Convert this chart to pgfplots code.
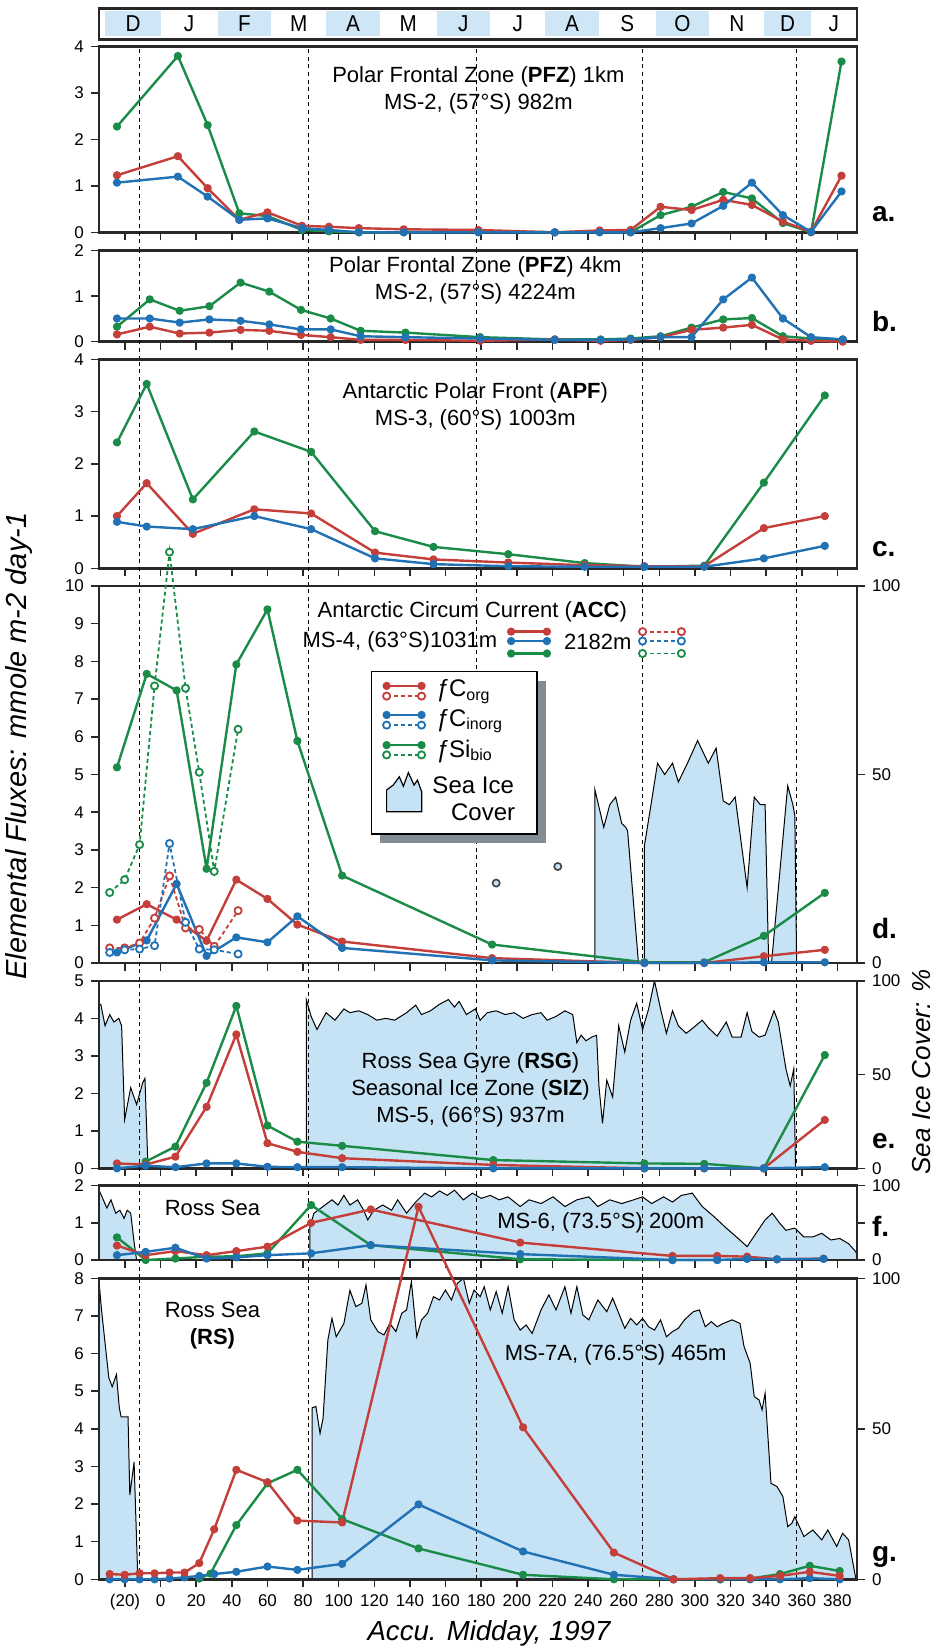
\documentclass[border=0pt]{standalone}
\usepackage{pgfplots}
\pgfplotsset{compat=1.18}
\usepackage{fontspec}
\setmainfont{Liberation Sans}
\newfontfamily\narrow{Liberation Sans}[FakeStretch=0.9]
\definecolor{cred}{RGB}{196,62,58}
\definecolor{cblue}{RGB}{33,113,181}
\definecolor{cgreen}{RGB}{26,140,72}
\definecolor{iceblue}{RGB}{198,227,245}
\definecolor{monthblue}{RGB}{206,230,246}
\definecolor{framec}{RGB}{40,40,40}
\definecolor{shadowc}{RGB}{130,140,148}
\tikzset{vdash/.style={black, line width=0.45pt, dash pattern=on 2pt off 1.8pt},
  tfont/.style={font=\fontsize{11}{13.5}\selectfont}}
\pgfplotsset{
  panel/.style={
    scale only axis, width=379pt, anchor=north west,
    xmin=-34.6, xmax=391, ymin=0, clip=false,
    axis line style={line width=1.25pt, framec},
    tick style={framec, line width=0.75pt},
    tick align=outside, major tick length=4pt,
    xtick={-20,0,...,380},
    xticklabels={}, xtick pos=bottom, ytick pos=left,
    /pgf/number format/assume math mode=true,
    ticklabel style={font=\fontsize{8.5}{10}\selectfont, text=black},
  },
  ice/.style={
    scale only axis, width=379pt, anchor=north west,
    xmin=-34.6, xmax=391, ymin=0, ymax=100,
    hide x axis, axis y line*=right,
    axis line style={line width=1.25pt, framec},
    tick style={framec, line width=0.75pt},
    tick align=outside, major tick length=4pt,
    ytick={0,50,100},
    /pgf/number format/assume math mode=true,
    ticklabel style={font=\fontsize{8.5}{10}\selectfont, text=black},
  },
  icefill/.style={fill=iceblue, draw=black, line width=0.5pt, mark=none},
  sr/.style={cred, line width=1.2pt, mark=*, mark size=1.45pt, line join=round},
  sb/.style={cblue, line width=1.2pt, mark=*, mark size=1.45pt, line join=round},
  sg/.style={cgreen, line width=1.2pt, mark=*, mark size=1.45pt, line join=round},
  dr/.style={cred, line width=0.9pt, dash pattern=on 2pt off 1.5pt, mark=*, mark size=1.8pt, mark options={solid, fill=white, draw=cred}},
  db/.style={cblue, line width=0.9pt, dash pattern=on 2pt off 1.5pt, mark=*, mark size=1.8pt, mark options={solid, fill=white, draw=cblue}},
  dg/.style={cgreen, line width=0.9pt, dash pattern=on 2pt off 1.5pt, mark=*, mark size=1.8pt, mark options={solid, fill=white, draw=cgreen}},
}
\newcommand\vl[2]{\pgfplotsinvokeforeach{-11.8,82.8,177.4,270.6,357.2}{\draw[vdash] (axis cs:##1,0) ++(0pt,-#2) -- (axis cs:##1,#1);}}
\newcommand\plet[2]{\node[anchor=base west, font=\bfseries\fontsize{14}{14}\selectfont] at ([shift={(4pt,#2)}]rel axis cs:1,0) {#1};}
\newcommand\mfont{\narrow\fontsize{11.5}{12}\selectfont}
\begin{document}
\begin{tikzpicture}
\useasboundingbox (0pt,0pt) rectangle (469pt,-825.5pt);

% month bar
\begin{axis}[scale only axis, width=379pt, height=15.5pt, at={(49.5pt,-4.15pt)}, anchor=north west,
  xmin=-34.6, xmax=391, ymin=0, ymax=1, ticks=none, clip=false,
  axis line style={line width=1.3pt, framec}]
\fill[monthblue] (axis cs:-31,0.1) rectangle (axis cs:0,0.9);
\fill[monthblue] (axis cs:32,0.1) rectangle (axis cs:62,0.9);
\fill[monthblue] (axis cs:93,0.1) rectangle (axis cs:123,0.9);
\fill[monthblue] (axis cs:155,0.1) rectangle (axis cs:185,0.9);
\fill[monthblue] (axis cs:216,0.1) rectangle (axis cs:246,0.9);
\fill[monthblue] (axis cs:278,0.1) rectangle (axis cs:308,0.9);
\fill[monthblue] (axis cs:339,0.1) rectangle (axis cs:365,0.9);
\node[font=\mfont] at (axis cs:-15.5,0.5) {D};
\node[font=\mfont] at (axis cs:16,0.5) {J};
\node[font=\mfont] at (axis cs:47,0.5) {F};
\node[font=\mfont] at (axis cs:77.5,0.5) {M};
\node[font=\mfont] at (axis cs:108,0.5) {A};
\node[font=\mfont] at (axis cs:139,0.5) {M};
\node[font=\mfont] at (axis cs:170,0.5) {J};
\node[font=\mfont] at (axis cs:200.5,0.5) {J};
\node[font=\mfont] at (axis cs:231,0.5) {A};
\node[font=\mfont] at (axis cs:262,0.5) {S};
\node[font=\mfont] at (axis cs:293,0.5) {O};
\node[font=\mfont] at (axis cs:323.5,0.5) {N};
\node[font=\mfont] at (axis cs:352,0.5) {D};
\node[font=\mfont] at (axis cs:378,0.5) {J};
\end{axis}

% panel a
\begin{axis}[panel, at={(49.5pt,-23.35pt)}, height=92.8pt, ymax=4, ytick={0,1,2,3,4}]
\vl{4}{9.2pt}
\addplot[sg] coordinates {(-24.5,2.28) (9.7,3.80) (26.4,2.31) (44.2,0.41) (60,0.35) (79.4,0.05) (94.5,0.02) (111.3,0) (136.5,0) (178.4,0.02) (221.3,0) (246.5,0.01) (263.9,0) (280.7,0.37) (298.1,0.55) (315.9,0.87) (332,0.73) (349.4,0.2) (365.2,0) (382.3,3.68)};
\addplot[sr] coordinates {(-24.5,1.23) (9.7,1.64) (26.4,0.95) (44.2,0.27) (60,0.43) (79.4,0.14) (94.5,0.12) (111.3,0.09) (136.5,0.065) (178.4,0.05) (221.3,0) (246.5,0.04) (263.9,0.05) (280.7,0.55) (298.1,0.48) (315.9,0.70) (332,0.59) (349.4,0.23) (365.2,0.01) (382.3,1.22)};
\addplot[sb] coordinates {(-24.5,1.07) (9.7,1.20) (26.4,0.77) (44.2,0.27) (60,0.30) (79.4,0.09) (94.5,0.05) (111.3,0) (136.5,0) (178.4,0) (221.3,0) (246.5,0) (263.9,0) (280.7,0.09) (298.1,0.19) (315.9,0.57) (332,1.07) (349.4,0.37) (365.2,0.01) (382.3,0.88)};
\node[tfont, align=center] at (axis cs:178.4,3.065) {Polar Frontal Zone (\textbf{PFZ}) 1km\\MS-2, (57°S) 982m};
\plet{a.}{5.3pt}
\end{axis}

% panel b
\begin{axis}[panel, at={(49.5pt,-125.35pt)}, height=45.5pt, ymax=2, ytick={0,1,2}]
\vl{2}{8.9pt}
\addplot[sg] coordinates {(-24.5,0.33) (-6.1,0.93) (10.7,0.68) (27.4,0.78) (44.9,1.30) (61,1.10) (78.8,0.70) (95.5,0.51) (112.3,0.24) (137.5,0.20) (179.4,0.10) (221.3,0.05) (247.1,0.05) (263.9,0.07) (280.7,0.12) (298.1,0.31) (315.9,0.49) (332,0.52) (349.4,0.12) (365.2,0.07) (383,0.05)};
\addplot[sr] coordinates {(-24.5,0.16) (-6.1,0.33) (10.7,0.18) (27.4,0.20) (44.9,0.26) (61,0.24) (78.8,0.15) (95.5,0.10) (112.3,0.04) (137.5,0.04) (179.4,0.02) (221.3,0.05) (247.1,0.02) (263.9,0.04) (280.7,0.10) (298.1,0.26) (315.9,0.31) (332,0.37) (349.4,0.05) (365.2,0.02) (383,0)};
\addplot[sb] coordinates {(-24.5,0.51) (-6.1,0.51) (10.7,0.42) (27.4,0.49) (44.9,0.46) (61,0.38) (78.8,0.27) (95.5,0.27) (112.3,0.12) (137.5,0.10) (179.4,0.07) (221.3,0.04) (247.1,0.04) (263.9,0.05) (280.7,0.10) (298.1,0.10) (315.9,0.93) (332,1.41) (349.4,0.51) (365.2,0.10) (383,0.05)};
\node[tfont, align=center] at (axis cs:176.7,1.34) {Polar Frontal Zone (\textbf{PFZ}) 4km\\MS-2, (57°S) 4224m};
\plet{b.}{5pt}
\end{axis}

% panel c
\begin{axis}[panel, at={(49.5pt,-179.7pt)}, height=104.45pt, ymax=4, ytick={0,1,2,3,4}]
\vl{4}{8.9pt}
\addplot[sg] coordinates {(-24.5,2.41) (-7.8,3.53) (18.1,1.32) (52.6,2.62) (84.5,2.23) (120.4,0.71) (153.2,0.41) (195.2,0.27) (238.1,0.10) (271.6,0.03) (305.2,0.05) (338.7,1.64) (372.9,3.31)};
\addplot[sr] coordinates {(-24.5,1.00) (-7.8,1.63) (18.1,0.66) (52.6,1.13) (84.5,1.05) (120.4,0.30) (153.2,0.17) (195.2,0.11) (238.1,0.06) (271.6,0.04) (305.2,0.04) (338.7,0.77) (372.9,1.00)};
\addplot[sb] coordinates {(-24.5,0.89) (-7.8,0.80) (18.1,0.75) (52.6,1.00) (84.5,0.75) (120.4,0.19) (153.2,0.08) (195.2,0.04) (238.1,0.03) (271.6,0.03) (305.2,0.03) (338.7,0.19) (372.9,0.43)};
\node[tfont, align=center] at (axis cs:176.7,3.11) {Antarctic Polar Front (\textbf{APF})\\MS-3, (60°S) 1003m};
\plet{c.}{5.8pt}
\end{axis}

% panel d ice
\begin{axis}[ice, at={(49.5pt,-293pt)}, height=188.5pt]
\addplot[icefill] coordinates {(243.8,0) (243.8,46) (248.8,36) (252.2,42) (255.5,44) (258.9,37) (261.2,36) (262.2,35) (268.3,0)} \closedcycle;
\addplot[icefill] coordinates {(271.6,0) (271.6,31) (275,41) (279,53) (283,50) (287.4,53) (290.7,48) (295.8,53) (301.5,59) (307.5,53) (311.9,57) (315.9,43) (319.3,42) (322.6,44) (329.3,20) (333.3,44) (336.7,42) (339.4,42) (341.4,0)} \closedcycle;
\addplot[icefill] coordinates {(343,0) (352.1,47) (355,42) (356.1,39) (357.1,0)} \closedcycle;
\end{axis}
% panel d
\begin{axis}[panel, at={(49.5pt,-293pt)}, height=188.5pt, ymax=10, ytick={0,1,...,10}]
\vl{10}{8.9pt}
\addplot[sg] coordinates {(-24.5,5.19) (-7.8,7.67) (9.0,7.23) (25.8,2.50) (42.5,7.92) (60,9.38) (76.8,5.89) (101.9,2.32) (186.1,0.49) (271.6,0.02) (305.2,0.02) (338.7,0.72) (372.9,1.86)};
\addplot[sr] coordinates {(-24.5,1.15) (-7.8,1.56) (9.0,1.15) (25.8,0.59) (42.5,2.21) (60,1.70) (76.8,1.02) (101.9,0.57) (186.1,0.13) (271.6,0) (305.2,0) (338.7,0.18) (372.9,0.35)};
\addplot[sb] coordinates {(-24.5,0.28) (-7.8,0.60) (9.0,2.10) (25.8,0.19) (42.5,0.68) (60,0.55) (76.8,1.24) (101.9,0.40) (186.1,0.07) (271.6,0) (305.2,0) (338.7,0.02) (372.9,0.02)};
\addplot[dg] coordinates {(-28.6,1.87) (-20.2,2.21) (-11.8,3.14) (-3.4,7.35) (5.0,10.9) (14.0,7.29) (21.7,5.06) (30.1,2.43) (43.5,6.2)};
\addplot[dr] coordinates {(-28.6,0.40) (-20.2,0.40) (-11.8,0.53) (-3.4,1.19) (5.0,2.31) (14.0,0.93) (21.7,0.89) (30.1,0.44) (43.5,1.39)};
\addplot[db] coordinates {(-28.6,0.28) (-20.2,0.35) (-11.8,0.37) (-3.4,0.46) (5.0,3.17) (14.0,1.08) (21.7,0.37) (30.1,0.35) (43.5,0.24)};
\addplot[only marks, mark=*, mark size=1.8pt, mark options={fill=iceblue, draw=black!75, line width=0.8pt}] coordinates {(188.4,2.12) (223,2.56)};
\node[tfont] at (axis cs:175,9.32) {Antarctic Circum Current (\textbf{ACC})};
\node[tfont, anchor=east] at (axis cs:193,8.52) {MS-4, (63°S)1031m};
\node[tfont] at (axis cs:245.5,8.52) {2182m};
\addplot[sr] coordinates {(196.8,8.79) (216.9,8.79)};
\addplot[sb] coordinates {(196.8,8.54) (216.9,8.54)};
\addplot[sg] coordinates {(196.8,8.21) (216.9,8.21)};
\addplot[dr] coordinates {(270.6,8.79) (292.4,8.79)};
\addplot[db] coordinates {(270.6,8.54) (292.4,8.54)};
\addplot[dg] coordinates {(270.6,8.21) (292.4,8.21)};
\fill[shadowc] (axis cs:123.4,3.18) rectangle (axis cs:216.5,7.49);
\filldraw[fill=white, draw=black, line width=0.9pt] (axis cs:118.4,3.42) rectangle (axis cs:211.5,7.73);
\addplot[sr] coordinates {(126.9,7.35) (146.5,7.35)};
\addplot[dr] coordinates {(126.9,7.08) (146.5,7.08)};
\addplot[sb] coordinates {(126.9,6.58) (146.5,6.58)};
\addplot[db] coordinates {(126.9,6.31) (146.5,6.31)};
\addplot[sg] coordinates {(126.9,5.78) (146.5,5.78)};
\addplot[dg] coordinates {(126.9,5.52) (146.5,5.52)};
\node[anchor=west, font=\fontsize{12}{12}\selectfont] at (axis cs:150.5,7.2) {\textit{ƒ}C\textsubscript{org}};
\node[anchor=west, font=\fontsize{12}{12}\selectfont] at (axis cs:150.5,6.42) {\textit{ƒ}C\textsubscript{inorg}};
\node[anchor=west, font=\fontsize{12}{12}\selectfont] at (axis cs:150.5,5.62) {\textit{ƒ}Si\textsubscript{bio}};
\filldraw[fill=iceblue, draw=black, line width=0.6pt] (axis cs:126.9,4.01) -- (axis cs:126.9,4.59) -- (axis cs:130.6,4.72) -- (axis cs:134,4.94) -- (axis cs:136.3,4.69) -- (axis cs:139.1,5.05) -- (axis cs:142.3,4.72) -- (axis cs:144.2,4.85) -- (axis cs:146.6,4.54) -- (axis cs:146.6,4.01) -- cycle;
\node[font=\fontsize{12}{12}\selectfont] at (axis cs:175.5,4.72) {Sea Ice};
\node[font=\fontsize{12}{12}\selectfont] at (axis cs:181.1,4.01) {Cover};
\plet{d.}{12.4pt}
\end{axis}

% panel e ice
\begin{axis}[ice, at={(49.5pt,-490.4pt)}, height=93.75pt]
\addplot[icefill] coordinates {(-34.6,87.5) (-33.6,87.5) (-31.2,76) (-28.6,82) (-26.2,78) (-23.5,80) (-21.9,76) (-20.2,26) (-16.8,43) (-13.5,34) (-10.1,45.5) (-8.8,48) (-7.1,0)} \closedcycle;
\addplot[icefill] coordinates {(81.8,0) (81.8,90) (84.5,81) (87.8,74) (92.9,83) (97.9,79) (102.9,85) (106.3,83) (111.3,84) (116.3,82) (121.4,79) (126.4,80) (131.4,79) (138.1,83) (143.2,87) (146.5,82) (151.5,84) (156.6,87.5) (161.6,90) (165,86) (167.6,89) (171.7,82) (176.7,85) (179.4,79) (183.4,83) (188.4,84) (193.5,82) (198.5,83) (203.5,80) (208.6,82) (213.6,83) (217,79) (222,81) (227,84) (231.4,82) (233.7,67) (236.1,71) (238.8,68) (242.1,70) (244.8,71) (246.1,44) (248.1,24) (250.5,47) (253.8,38) (257.2,76) (260.6,62) (263.9,79) (267.3,88) (270.6,74) (274,85) (277.3,100) (280.7,85) (284,72) (287.4,84) (290.7,76) (295.1,72) (299.1,75) (304.1,79) (307.5,75) (312.5,70.5) (317.6,78) (320.9,70) (325.9,70) (329.3,83) (332,73) (336,70) (339.4,71) (344.4,84) (346.8,78) (351.1,53) (353.5,44) (355.5,53) (356.5,0)} \closedcycle;
\end{axis}
% panel e
\begin{axis}[panel, at={(49.5pt,-490.4pt)}, height=93.75pt, ymax=5, ytick={0,1,...,5}]
\vl{5}{8.7pt}
\addplot[sg] coordinates {(-8.4,0.18) (8.3,0.58) (25.8,2.28) (42.5,4.33) (60,1.14) (76.8,0.71) (101.9,0.60) (186.8,0.22) (271.6,0.13) (305.2,0.12) (338.7,0) (372.9,3.02)};
\addplot[sr] coordinates {(-24.5,0.13) (-8.4,0.10) (8.3,0.31) (25.8,1.64) (42.5,3.57) (60,0.67) (76.8,0.44) (101.9,0.27) (186.8,0.09) (271.6,0) (305.2,0) (338.7,0) (372.9,1.29)};
\addplot[sb] coordinates {(-24.5,0) (-8.4,0.07) (8.3,0.03) (25.8,0.13) (42.5,0.13) (60,0.04) (76.8,0.03) (101.9,0.03) (186.8,0) (271.6,0) (305.2,0) (338.7,0) (372.9,0.03)};
\node[tfont, align=center] at (axis cs:174,2.1) {Ross Sea Gyre (\textbf{RSG})\\Seasonal Ice Zone (\textbf{SIZ})\\MS-5, (66°S) 937m};
\plet{e.}{10pt}
\end{axis}

% panel f ice
\begin{axis}[ice, at={(49.5pt,-592.85pt)}, height=37.15pt, yticklabels={0,,100}]
\addplot[icefill] coordinates {(-34.6,94) (-32.9,85) (-30.2,70) (-27.9,81) (-25.2,63) (-22.9,67) (-20.5,56) (-18.8,67) (-16.8,63) (-14.8,22) (-13.5,0)} \closedcycle;
\addplot[icefill] coordinates {(83.8,0) (83.8,45) (86.1,63) (91.2,72) (96.2,81) (99.6,74) (102.9,87) (106.3,74) (110.6,81) (114,67) (116.3,54) (119.7,67) (124.7,74) (129.7,67) (133.1,81) (138.1,63) (143.2,78) (148.2,90) (152.2,85) (156.6,93) (160.9,87) (165,94) (170,81) (175,90) (180,83) (185.1,87) (190.1,81) (195.1,85) (201.9,72) (206.9,81) (213.6,76) (220.3,85) (227,72) (233.7,81) (240.4,85) (245.5,72) (252.2,81) (258.9,76) (265.6,81) (270.6,85) (275.7,76) (282.4,85) (287.4,78) (292.4,87) (298.5,90) (304.1,72) (310.9,58) (317.6,43) (324.3,29) (329.3,18) (334.3,36) (339.4,54) (343.4,63) (347.8,49) (351.1,40) (356.1,43) (361.2,31) (366.2,31) (371.2,36) (376.3,27) (381.3,29) (386.3,22) (390.4,11) (391,5)} \closedcycle;
\end{axis}
% panel f
\begin{axis}[panel, at={(49.5pt,-592.85pt)}, height=37.15pt, ymax=2, ytick={0,1,2}]
\vl{2}{9.2pt}
\addplot[sg] coordinates {(-24.5,0.61) (-8.4,0) (8.3,0.04) (25.8,0.09) (42.5,0.10) (60,0.18) (84.5,1.48) (118,0.40) (201.9,0.02) (287.4,0) (312.5,0)};
\addplot[sr] coordinates {(-24.5,0.39) (-8.4,0.13) (8.3,0.24) (25.8,0.13) (42.5,0.24) (60,0.36) (84.5,1.00) (118,1.36) (201.9,0.47) (287.4,0.11) (312.5,0.11) (329.3,0.09) (346.1,0.02) (372.2,0.04)};
\addplot[sb] coordinates {(-24.5,0.13) (-8.4,0.22) (8.3,0.33) (25.8,0.04) (42.5,0.07) (60,0.13) (84.5,0.18) (118,0.40) (201.9,0.16) (287.4,0) (312.5,0) (329.3,0.03) (346.1,0.02) (372.2,0.03)};
\node[tfont] at (axis cs:29.1,1.39) {Ross Sea};
\node[tfont] at (axis cs:247.1,0.99) {MS-6, (73.5°S) 200m};
\plet{f.}{11.7pt}
\end{axis}

% panel g ice
\begin{axis}[ice, at={(49.5pt,-639.15pt)}, height=150.5pt]
\addplot[icefill] coordinates {(-34.6,99) (-33.1,89) (-29.1,67) (-27.2,64) (-24.8,68) (-23.2,57) (-22.2,54) (-18.3,54) (-17.3,28) (-14.9,39) (-12.8,0)} \closedcycle;
\addplot[icefill] coordinates {(85.1,0) (85.1,57) (87.2,57.4) (89.5,48.5) (91.2,53.5) (93.9,79.5) (96.2,86.7) (98.6,80.6) (102.9,85) (106.3,96) (109.6,90.6) (113,91.7) (115.3,97.8) (118,86.2) (122,82.3) (125.4,81.2) (128.7,85) (132.1,82.3) (135.4,88.4) (138.1,89.5) (140.8,98.9) (143.8,80.6) (146.5,86.2) (149.9,88.4) (153.2,93.9) (156.6,92.8) (159.9,96.1) (163.3,92.8) (166.6,98.3) (170,100) (173.3,91.7) (176,96.1) (179.4,93.9) (181.7,97.2) (185.1,89.5) (188.4,95.6) (191.8,88.4) (195.1,97.2) (198.5,86.2) (201.9,82.8) (205.2,84.5) (208.6,81.7) (213.6,89.5) (218,94.5) (222,89.5) (227,97.2) (230.4,88.4) (233.7,97.2) (237.1,87.8) (240.4,86.2) (245.5,92.8) (250.5,88.9) (253.8,93.4) (257.2,88.4) (260.6,83.4) (263.9,86.7) (267.3,84.5) (270.6,86.7) (274,83.9) (277.3,82.8) (280.7,86.2) (284,80.6) (287.4,82.3) (290.7,83.4) (294.1,86.2) (299.1,88.9) (302.5,89.5) (305.8,83.9) (309.2,85.6) (312.5,83.9) (315.9,85) (320.9,86.2) (325.3,85) (327.6,77.3) (331,71.8) (333.3,60.7) (336,59.6) (337.7,56.3) (339.4,61.8) (342.7,31.9) (346.1,30.8) (349.4,27.5) (352.1,17.5) (354.4,18.6) (356.1,20.8) (361.2,14.2) (366.2,16.4) (371.2,13.1) (374.6,16.4) (379.6,10.9) (382.9,15.3) (386.3,13.1) (390.4,0)} \closedcycle;
\end{axis}
% panel g
\begin{axis}[panel, at={(49.5pt,-639.15pt)}, height=150.5pt, ymax=8, ytick={0,1,...,8},
  xticklabels={{(20)},0,20,40,60,80,100,120,140,160,180,200,220,240,260,280,300,320,340,360,380}]
\vl{8}{0pt}
\addplot[sg] coordinates {(21.7,0.02) (28,0.15) (42.5,1.44) (60,2.55) (76.8,2.91) (101.9,1.60) (144.8,0.82) (203.5,0.12) (254.5,0) (288,0) (314.2,0) (331,0.02) (347.8,0.14) (364.5,0.36) (381.3,0.22)};
\addplot[sb] coordinates {(-28.6,0) (-20.2,0) (-11.8,0) (-3.4,0) (5.0,0.02) (13.4,0.05) (21.7,0.09) (30.1,0.14) (42.5,0.20) (60,0.34) (76.8,0.25) (101.9,0.41) (144.8,1.99) (203.5,0.74) (254.5,0.12) (288,0) (314.2,0) (331,0) (347.8,0) (364.5,0.03) (381.3,0)};
\addplot[sr] coordinates {(-28.6,0.14) (-20.2,0.12) (-11.8,0.16) (-3.4,0.16) (5.0,0.18) (13.4,0.18) (21.7,0.43) (30.1,1.33) (42.5,2.91) (60,2.58) (76.8,1.56) (101.9,1.51) (144.8,9.9) (203.5,4.04) (254.5,0.71) (288,0) (314.2,0.03) (331,0.03) (347.8,0.09) (364.5,0.20) (381.3,0.09)};
\node[tfont, align=center] at (axis cs:29.1,6.74) {Ross Sea\\\textbf{(RS)}};
\node[tfont] at (axis cs:255.5,5.97) {MS-7A, (76.5°S) 465m};
\plet{g.}{8.8pt}
\end{axis}

\node[font=\itshape\fontsize{13.8}{14}\selectfont] at (244.5pt,-816.5pt) {Accu. Midday, 1997};
\node[font=\itshape\fontsize{14.5}{15}\selectfont, rotate=90] at (9.5pt,-373pt) {Elemental Fluxes: mmole m-2 day-1};
\node[font=\itshape\fontsize{13}{13}\selectfont, rotate=90] at (461pt,-536pt) {Sea Ice Cover: \%};
\end{tikzpicture}
\end{document}
